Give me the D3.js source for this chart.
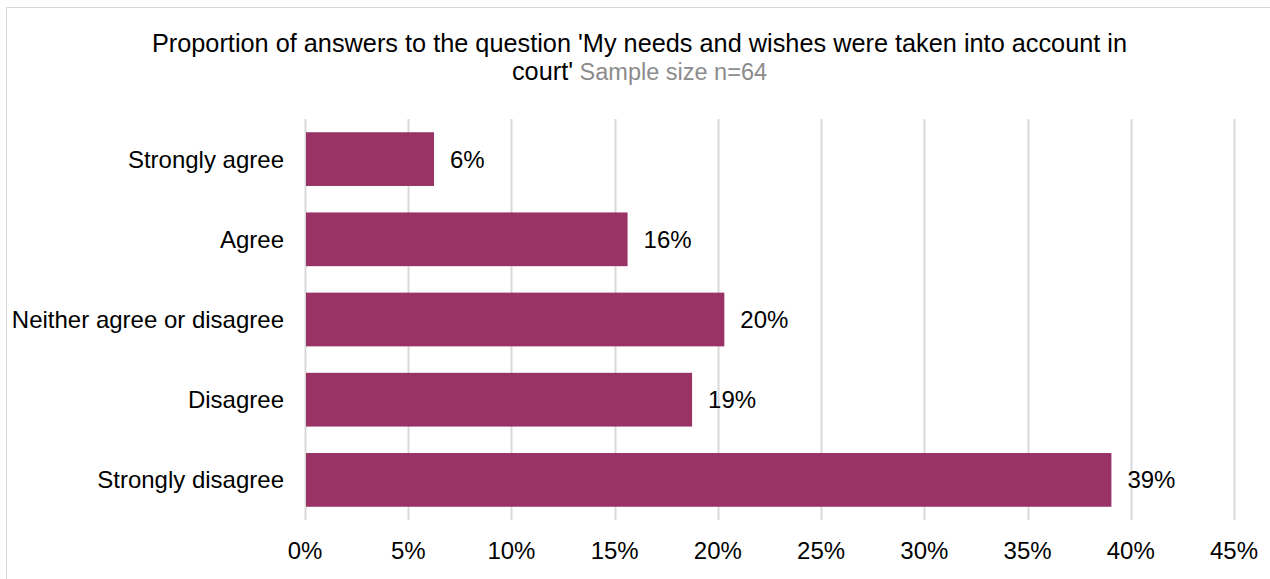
<!DOCTYPE html>
<html><head><meta charset="utf-8">
<script src="https://cdn.jsdelivr.net/npm/d3@7"></script>
<style>body{margin:0;background:#fff}svg{display:block;font-family:"Liberation Sans",Arial,sans-serif}</style>
</head><body><svg id="c" width="1270" height="579"></svg>
<script>
const categories = ["Strongly agree","Agree","Neither agree or disagree","Disagree","Strongly disagree"];
const values = [0.0625,0.15625,0.203125,0.1875,0.390625];
const valueLabels = ["6%","16%","20%","19%","39%"];
const ticks = [0,0.05,0.10,0.15,0.20,0.25,0.30,0.35,0.40,0.45];
const titleLine1 = "Proportion of answers to the question 'My needs and wishes were taken into account in";
const titleLine2a = "court'";
const titleLine2b = " Sample size n=64";

const svg = d3.select("#c");
svg.append("rect").attr("x",6.5).attr("y",7.5).attr("width",1270).attr("height",600)
  .attr("fill","none").attr("stroke","#d9d9d9");

const x = d3.scaleLinear().domain([0,0.45]).range([305,1234]);
const y = d3.scaleBand().domain(categories).range([119,520]).paddingInner(0.33).paddingOuter(0.165);

svg.append("g").selectAll("line").data(ticks).join("line")
  .attr("x1",d=>Math.round(x(d))+0.5).attr("x2",d=>Math.round(x(d))+0.5)
  .attr("y1",119).attr("y2",520).attr("stroke","#d9d9d9").attr("stroke-width",2);

svg.append("g").selectAll("rect").data(values).join("rect")
  .attr("x",x(0)+1).attr("y",(d,i)=>y(categories[i]))
  .attr("width",d=>x(d)-x(0)-1).attr("height",y.bandwidth()).attr("fill","#993366");

svg.append("g").selectAll("text").data(values).join("text")
  .attr("x",d=>x(d)+16).attr("y",(d,i)=>y(categories[i])+y.bandwidth()/2)
  .attr("dy","0.35em").attr("font-size",24).attr("fill","#000")
  .text((d,i)=>valueLabels[i]);

svg.append("g").selectAll("text").data(categories).join("text")
  .attr("x",284).attr("y",d=>y(d)+y.bandwidth()/2).attr("dy","0.35em")
  .attr("text-anchor","end").attr("font-size",24).attr("fill","#000").text(d=>d);

svg.append("g").selectAll("text").data(ticks).join("text")
  .attr("x",d=>x(d)).attr("y",551).attr("dy","0.35em").attr("text-anchor","middle")
  .attr("font-size",24).attr("fill","#000").text(d=>d3.format(".0%")(d));

svg.append("text").attr("x",639.5).attr("y",52).attr("text-anchor","middle")
  .attr("font-size",25.3).attr("fill","#000").text(titleLine1);
const t2 = svg.append("text").attr("x",639.5).attr("y",80).attr("text-anchor","middle").attr("font-size",25.3);
t2.append("tspan").attr("fill","#000").text(titleLine2a);
t2.append("tspan").attr("fill","#8c8c8c").attr("font-size",23.5).text(titleLine2b);
</script></body></html>
